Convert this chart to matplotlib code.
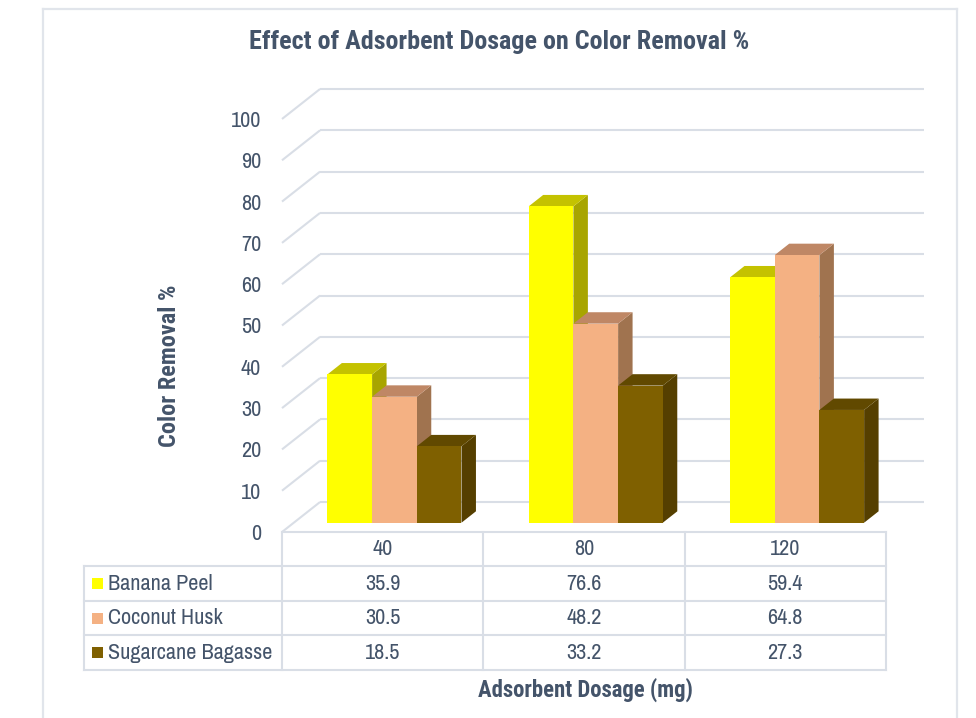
import matplotlib
matplotlib.use("Agg")
import matplotlib.pyplot as plt
from matplotlib.patches import Polygon, Rectangle
from matplotlib.lines import Line2D

REGULAR = ['Liberation Sans Narrow', 'Archivo Narrow', 'Liberation Sans', 'DejaVu Sans']
BOLD = ['Liberation Sans Narrow', 'Roboto Condensed', 'IBM Plex Sans Condensed',
        'Liberation Sans', 'DejaVu Sans']
plt.rcParams['font.family'] = REGULAR

# ---- data ----
dosages = ["40", "80", "120"]
series_names = ["Banana Peel", "Coconut Husk", "Sugarcane Bagasse"]
banana_peel = [35.9, 76.6, 59.4]
coconut_husk = [30.5, 48.2, 64.8]
sugarcane_bagasse = [18.5, 33.2, 27.3]
y_ticks = [0, 10, 20, 30, 40, 50, 60, 70, 80, 90, 100]

series_values = [banana_peel, coconut_husk, sugarcane_bagasse]

# face colours: front, top, side
front_colors = ["#FFFF00", "#F4B183", "#7F6000"]
top_colors = ["#C4C200", "#BF8765", "#614900"]
side_colors = ["#A8A500", "#A0734F", "#553F00"]

TEXT = "#44546A"
GRID = "#D9DEE6"

W, H = 976, 718
fig = plt.figure(figsize=(W / 100, H / 100), dpi=100)

# pseudo-3D geometry (depth offsets in data units)
DX = 0.189      # horizontal shift of the back wall, in category units
DY = 7.26       # vertical shift of the back wall, in value units
N = len(dosages)
YMAX = 100

left_px, right_px = 282, 924
bottom_px, top_px = 532, 89
ax = fig.add_axes([left_px / W, 1 - bottom_px / H,
                   (right_px - left_px) / W, (bottom_px - top_px) / H])
ax.set_xlim(0, N + DX)
ax.set_ylim(0, YMAX + DY)
for s in ax.spines.values():
    s.set_visible(False)
ax.set_xticks([])
ax.set_yticks(y_ticks)
ax.set_yticklabels([str(t) for t in y_ticks])
ax.tick_params(axis='y', length=0, pad=15, labelsize=16, labelcolor=TEXT)
ax.patch.set_alpha(0)

# walls: side wall diagonals and back wall gridlines
for v in y_ticks:
    ax.plot([0, DX], [v, v + DY], color=GRID, lw=1.5, solid_capstyle='butt',
            clip_on=False, zorder=1)
    ax.plot([DX, N + DX], [v + DY, v + DY], color=GRID, lw=1.5,
            solid_capstyle='butt', clip_on=False, zorder=1)

# bars
bar_w = 0.222
f0, f1 = 0.31, 0.69   # front and back depth fractions of each bar
n_series = len(series_values)
z = 3
for i in range(N):
    group_left = i + 0.5 - bar_w * n_series / 2
    for k, vals in enumerate(series_values):
        v = vals[i]
        x0 = group_left + k * bar_w + f0 * DX
        x1 = x0 + bar_w
        y0 = f0 * DY
        y1 = y0 + v
        ddx = (f1 - f0) * DX
        ddy = (f1 - f0) * DY
        front = Rectangle((x0, y0), bar_w, v, facecolor=front_colors[k],
                          edgecolor='none', zorder=z, clip_on=False)
        top = Polygon([(x0, y1), (x1, y1), (x1 + ddx, y1 + ddy), (x0 + ddx, y1 + ddy)],
                      closed=True, facecolor=top_colors[k], edgecolor='none',
                      zorder=z, clip_on=False)
        side = Polygon([(x1, y0), (x1 + ddx, y0 + ddy), (x1 + ddx, y1 + ddy), (x1, y1)],
                       closed=True, facecolor=side_colors[k], edgecolor='none',
                       zorder=z, clip_on=False)
        ax.add_patch(side)
        ax.add_patch(top)
        ax.add_patch(front)
        z += 1

# data table below the plot
row_h = 8.35
x_leg = -0.983
fs_tab = 16
tab_kw = dict(color=GRID, lw=1.5, clip_on=False, zorder=2, solid_capstyle='projecting')
ax.plot([0, N], [0, 0], **tab_kw)
for r in range(1, n_series + 2):
    ax.plot([x_leg, N], [-r * row_h, -r * row_h], **tab_kw)
for c in range(N + 1):
    ax.plot([c, c], [0, -(n_series + 1) * row_h], **tab_kw)
ax.plot([x_leg, x_leg], [-row_h, -(n_series + 1) * row_h], **tab_kw)

# header row
for i, lab in enumerate(dosages):
    ax.text(i + 0.5, -0.5 * row_h, lab, ha='center', va='center',
            fontsize=fs_tab, color=TEXT, clip_on=False)

# data rows with legend keys
key_w = 11 / 201.33
key_h = 11 / 4.13
for k, (name, vals) in enumerate(zip(series_names, series_values)):
    yc = -(k + 1.5) * row_h
    ax.add_patch(Rectangle((-0.944, yc - key_h / 2), key_w, key_h,
                           facecolor=front_colors[k], edgecolor='none',
                           clip_on=False, zorder=3))
    ax.text(-0.864, yc, name, ha='left', va='center', fontsize=fs_tab,
            color=TEXT, clip_on=False)
    for i, v in enumerate(vals):
        ax.text(i + 0.5, yc, f"{v:.1f}", ha='center', va='center',
                fontsize=fs_tab, color=TEXT, clip_on=False)

# titles
fig.text(499 / W, 1 - 42 / H, "Effect of Adsorbent Dosage on Color Removal %",
         ha='center', va='center', fontsize=18.8, fontweight='bold', color=TEXT,
         family=BOLD)
fig.text(170 / W, 1 - 366 / H, "Color Removal %", rotation=90,
         ha='center', va='center', fontsize=17.5, fontweight='bold', color=TEXT,
         family=BOLD)
fig.text(585 / W, 1 - 690 / H, "Adsorbent Dosage (mg)",
         ha='center', va='center', fontsize=16.4, fontweight='bold', color=TEXT,
         family=BOLD)

# outer frame (open at the bottom)
frame_c = "#E1E5EB"
for xs, ys in [([43, 43], [718, 9]), ([43, 957], [9, 9]), ([957, 957], [9, 718])]:
    fig.add_artist(Line2D([x / W for x in xs], [1 - y / H for y in ys],
                          transform=fig.transFigure, color=frame_c, lw=1.6))

fig.savefig("out.png", dpi=100, facecolor="white")
